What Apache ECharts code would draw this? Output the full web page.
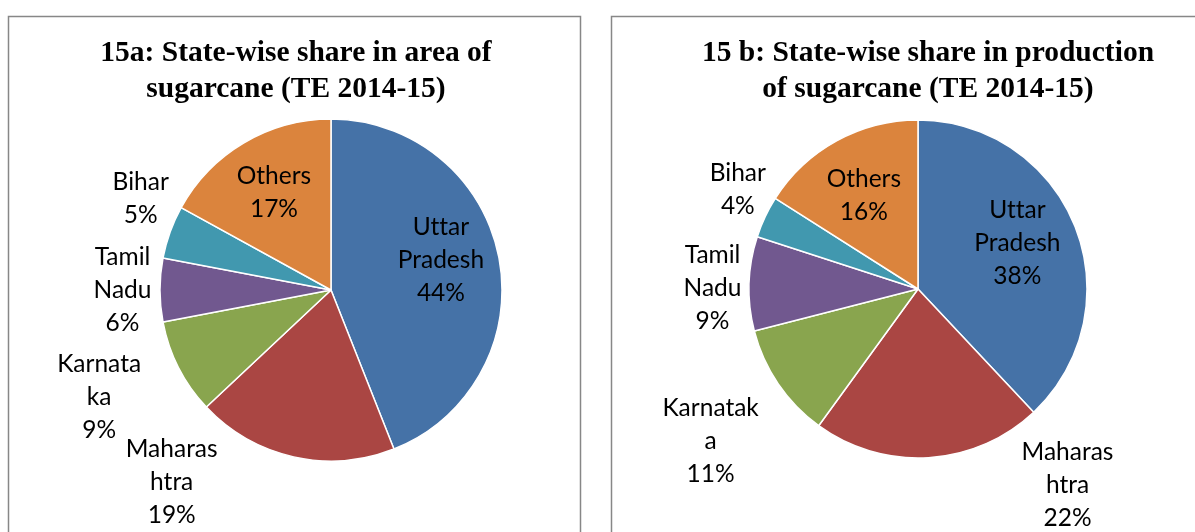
<!DOCTYPE html>
<html>
<head>
<meta charset="utf-8">
<script src="https://cdn.jsdelivr.net/npm/echarts@6/dist/echarts.min.js"></script>
<style>
  html, body { margin: 0; padding: 0; background: #fff; }
  #main { width: 1195px; height: 532px; }
</style>
</head>
<body>
<div id="main"></div>
<script>
// states, same order in both charts
const states = ['Uttar Pradesh', 'Maharashtra', 'Karnataka', 'Tamil Nadu', 'Bihar', 'Others'];
// 15a: share in area (%)
const areaShare = [44, 19, 9, 6, 5, 17];
// 15b: share in production (%)
const prodShare = [38, 22, 11, 9, 4, 16];
// label text as wrapped in the original (zwnj stops the "tt" ligature)
const areaLabels = ['Ut\u200Ctar\nPradesh', 'Maharas\nhtra', 'Karnata\nka', 'Tamil\nNadu', 'Bihar', 'Others'];
const prodLabels = ['Ut\u200Ctar\nPradesh', 'Maharas\nhtra', 'Karnatak\na', 'Tamil\nNadu', 'Bihar', 'Others'];

const titleA = '15a: State-wise share in area of\nsugarcane (TE 2014-15)';
const titleB = '15 b: State-wise share in production\nof sugarcane (TE 2014-15)';

const colors = ['#4572A7', '#AA4643', '#89A54E', '#71588F', '#4198AF', '#DB843D'];

// label nudges (px) from the inside position, like excel's best fit
const nudgeA = [[23, -13], [-140, 106], [-153, 67], [-120, 0], [-107, -61], [-12, -21]];
const nudgeB = [[18, -14], [144, 109], [-135, 103], [-118, 2], [-101, -62], [-12, -17]];

const chart = echarts.init(document.getElementById('main'));

function makePie(values, labels, nudge, center, radius) {
  return {
    type: 'pie',
    center: center,
    radius: radius,
    startAngle: 90,
    clockwise: true,
    animation: false,
    silent: true,
    itemStyle: { borderColor: '#fff', borderWidth: 1.5 },
    label: {
      show: true,
      position: 'inside',
      fontFamily: 'Lato',
      fontSize: 24.5,
      lineHeight: 33,
      color: '#000',
      align: 'center',
      formatter: (p) => labels[p.dataIndex] + '\n' + p.value + '%'
    },
    labelLine: { show: false },
    labelLayout: (p) => ({ dx: nudge[p.dataIndex][0], dy: nudge[p.dataIndex][1] }),
    data: values.map((v, i) => ({ name: states[i], value: v }))
  };
}

const titleStyle = {
  fontFamily: 'Liberation Serif',
  fontWeight: 'bold',
  fontSize: 29.5,
  lineHeight: 36,
  color: '#000'
};

chart.setOption({
  color: colors,
  animation: false,
  title: [
    { text: titleA, left: 296, top: 35, textAlign: 'center', padding: 0, textStyle: titleStyle },
    { text: titleB, left: 928, top: 35, textAlign: 'center', padding: 0, textStyle: titleStyle }
  ],
  graphic: [
    { type: 'rect', shape: { x: 8.5, y: 16.5, width: 572, height: 560 },
      style: { fill: 'none', stroke: '#878787', lineWidth: 1.5 }, silent: true },
    { type: 'rect', shape: { x: 611.5, y: 16.5, width: 640, height: 560 },
      style: { fill: 'none', stroke: '#878787', lineWidth: 1.5 }, silent: true }
  ],
  series: [
    makePie(areaShare, areaLabels, nudgeA, [331, 290], 171),
    makePie(prodShare, prodLabels, nudgeB, [918, 289], 169)
  ]
});
</script>
</body>
</html>
